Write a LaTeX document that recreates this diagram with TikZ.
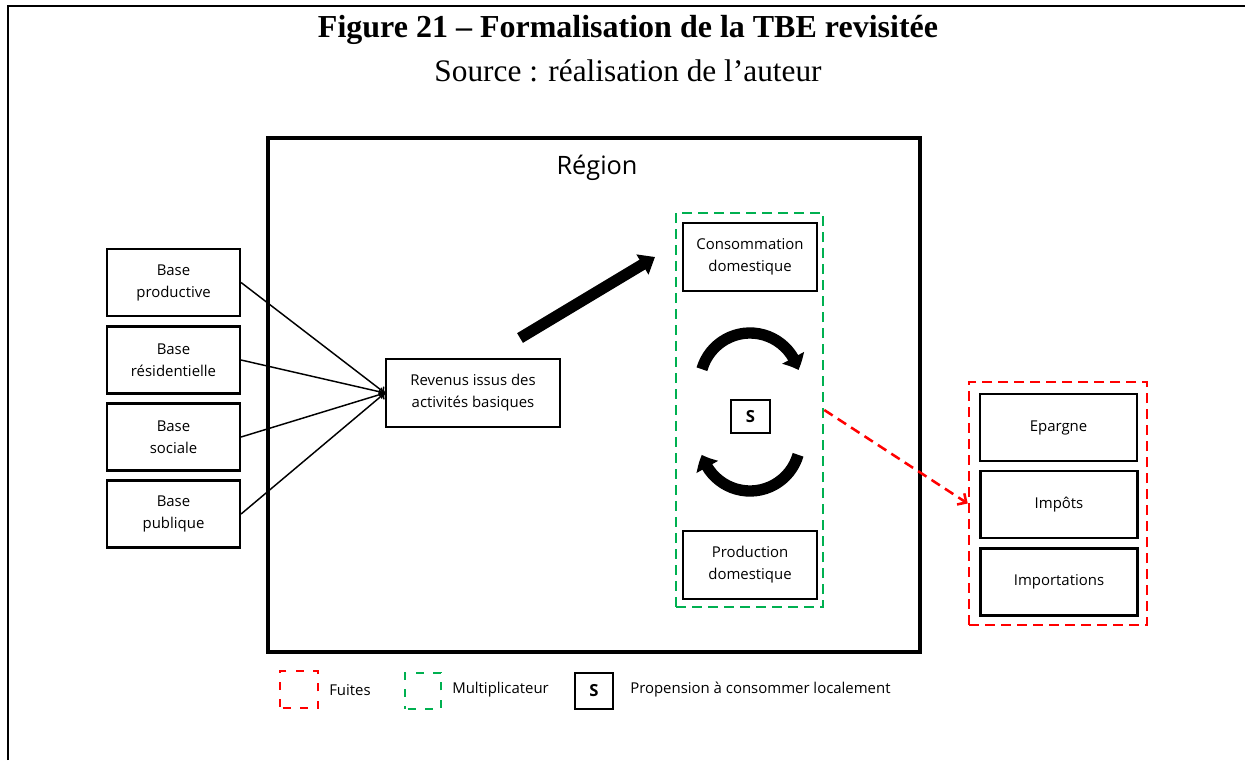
\documentclass[tikz,border=0pt]{standalone}
\usepackage{fontspec}
\setmainfont{Liberation Serif}
\newfontfamily\diagfont{Open Sans}
\usetikzlibrary{arrows.meta,bending}
\definecolor{fuitered}{RGB}{255,0,0}
\definecolor{multgreen}{RGB}{0,176,80}
\begin{document}
\begin{tikzpicture}[x=0.75pt,y=-0.75pt,
  txt/.style={font=\diagfont\fontsize{11.2}{16.5}\selectfont, inner sep=0pt},
  box/.style={txt, draw=black, line width=1.6pt, fill=white, align=center},
  basebox/.style={box, minimum width=99.75pt, minimum height=50.25pt},
  domebox/.style={box, minimum width=100.5pt, minimum height=51pt},
  leakbox/.style={box, minimum width=117.75pt, minimum height=50.25pt},
  sbox/.style={box, font=\diagfont\bfseries\fontsize{12.5}{14}\selectfont},
  greendash/.style={draw=multgreen, line width=1.9pt, dash pattern=on 7.5pt off 4.5pt},
  reddash/.style={draw=fuitered, line width=1.9pt, dash pattern=on 7.5pt off 4.5pt},
  thinarrow/.style={line width=1.1pt, -{To[length=4pt,width=7pt]}},
  cyclearrow/.style={line width=8.5pt, -{Triangle[length=10pt,width=18pt,bend]}}
]
\useasboundingbox (0,0) rectangle (1245,760);
% outer frame
\draw[line width=1.9pt] (8,760) -- (8,6) -- (1245,6);
% title
\node (title) at (628,30) {\fontsize{24}{28}\selectfont\bfseries Figure 21 – Formalisation de la TBE revisitée};
\node (subtitle) at (628,71) {\fontsize{23.5}{28}\selectfont Source : réalisation de l’auteur};
% region
\node[draw=black, line width=2.3pt, minimum width=489pt, minimum height=385.5pt, inner sep=0pt] (region) at (594,395) {};
\node[txt, font=\diagfont\fontsize{19}{22}\selectfont] (regionlbl) at (597,168) {Région};
% base boxes
\node[basebox] (bprod) at (173.5,282.5) {Base\\productive};
\node[basebox] (bres) at (173.5,360) {Base\\résidentielle};
\node[basebox] (bsoc) at (173.5,437) {Base\\sociale};
\node[basebox] (bpub) at (173.5,514) {Base\\publique};
% revenus
\node[box, minimum width=130.5pt, minimum height=51pt] (rev) at (473,393) {Revenus issus des\\activités basiques};
\foreach \b in {bprod,bres,bsoc,bpub}
  \draw[thinarrow] (\b.east) -- (rev.west);
% multiplier
\node[greendash, minimum width=110.25pt, minimum height=295.5pt, inner sep=0pt] (mult) at (749.5,410) {};
\node[domebox] (cons) at (750,257) {Consommation\\domestique};
\node[domebox] (prod) at (750,565) {Production\\domestique};
\node[sbox, minimum width=29.25pt, minimum height=24.75pt] (s) at (750.5,416.5) {S};
% thick arrow
\coordinate (thA) at (520,338);
\coordinate (thB) at (655,257);
\draw[line width=8.5pt, -{Triangle[length=11pt,width=17pt]}] (thA) -- (thB);
% cycle arrows
\draw[cyclearrow] (750,383) ++(196:50) arc[start angle=196, end angle=345, radius=50];
\draw[cyclearrow] (750,441) ++(16:50) arc[start angle=16, end angle=164, radius=50];
% leaks
\node[reddash, minimum width=133.5pt, minimum height=182.25pt, inner sep=0pt] (fuites) at (1058,503.5) {};
\node[leakbox] (epargne) at (1058.5,427.5) {Epargne};
\node[leakbox] (impots) at (1059,504.5) {Impôts};
\node[leakbox] (import) at (1059,582) {Importations};
\draw[draw=fuitered, line width=1.9pt, dash pattern=on 7.5pt off 4.5pt, -{Straight Barb[length=5pt,width=10pt]}] (mult.east) -- (fuites.west);
% legend
\node[reddash, minimum width=28.5pt, minimum height=27.75pt, inner sep=0pt, dash pattern=on 6pt off 7pt, dash phase=-2pt] (legred) at (299,689.5) {};
\node[txt, anchor=west] (legredlbl) at (329,690) {Fuites};
\node[greendash, minimum width=27pt, minimum height=27pt, inner sep=0pt, dash pattern=on 6pt off 7pt, dash phase=-2pt] (leggreen) at (423,691) {};
\node[txt, anchor=west] (leggreenlbl) at (452,690) {Multiplicateur};
\node[sbox, minimum width=28.5pt, minimum height=27pt] (legs) at (594,691) {S};
\node[txt, anchor=west] (legslbl) at (630,690) {Propension à consommer localement};
\end{tikzpicture}
\end{document}
